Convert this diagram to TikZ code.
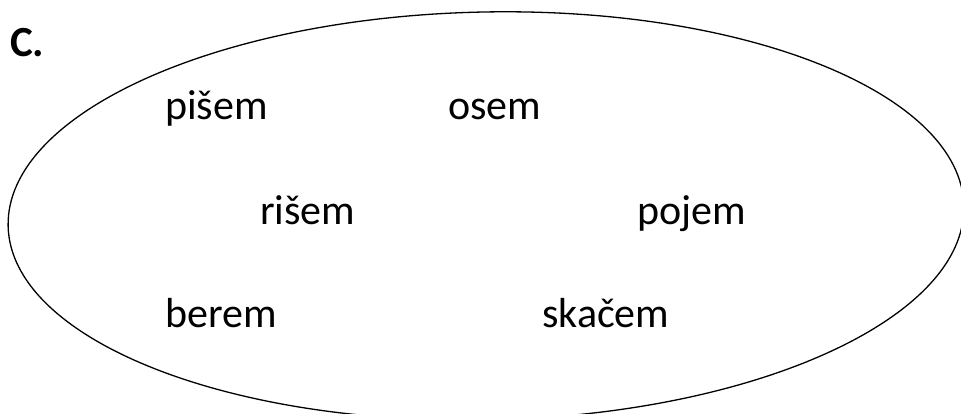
\documentclass[tikz,border=0pt]{standalone}
\usepackage{fontspec}
\setmainfont{Carlito}
\begin{document}
\begin{tikzpicture}[x=1pt,y=1pt,
  word/.style={anchor=base west,inner sep=0pt,font=\fontsize{42}{50}\selectfont}]
\useasboundingbox (0,0) rectangle (961,414);
\begin{scope}
\clip (0,0) rectangle (961,414);
\draw[line width=1.3pt,rotate around={1.2:(486,198)}] (486,198) ellipse [x radius=478, y radius=204];
\end{scope}
\node[word,font=\fontsize{43}{50}\selectfont\bfseries] (c) at (10,357) {C.};
\node[word] (w1) at (165,294) {pišem};
\node[word] (w2) at (448,294) {osem};
\node[word] (w3) at (260,189) {rišem};
\node[word] (w4) at (637,189) {pojem};
\node[word] (w5) at (165,86) {berem};
\node[word] (w6) at (542,86) {skačem};
\end{tikzpicture}
\end{document}
